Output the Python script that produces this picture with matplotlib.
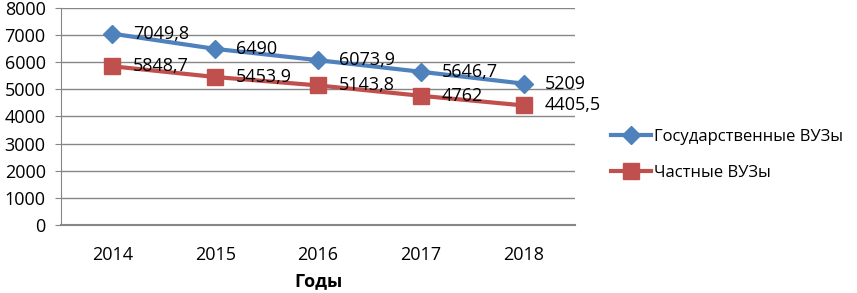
import matplotlib
matplotlib.use("Agg")
import matplotlib.pyplot as plt

years = ["2014", "2015", "2016", "2017", "2018"]
state = [7049.8, 6490, 6073.9, 5646.7, 5209]
private = [5848.7, 5453.9, 5143.8, 4762, 4405.5]
state_labels = ["7049,8", "6490", "6073,9", "5646,7", "5209"]
private_labels = ["5848,7", "5453,9", "5143,8", "4762", "4405,5"]

plt.rcParams['font.family'] = ['Open Sans', 'DejaVu Sans']

fig = plt.figure(figsize=(8.57, 2.93), dpi=100)
ax = fig.add_axes([0.0712, 0.232, 0.6, 0.741])

x = range(len(years))
l1, = ax.plot(x, state, color="#4F81BD", lw=3, marker="D", ms=9,
              label="Государственные ВУЗы")
l2, = ax.plot(x, private, color="#C0504D", lw=3, marker="s", ms=11,
              label="Частные ВУЗы")

for i in x:
    ax.annotate(state_labels[i], (i, state[i]), xytext=(15, 0),
                textcoords="offset points", ha="left", va="center", fontsize=13)
    ax.annotate(private_labels[i], (i, private[i]), xytext=(15, 0),
                textcoords="offset points", ha="left", va="center", fontsize=13)

ax.set_xlim(-0.5, 4.5)
ax.set_ylim(0, 8000)
ax.set_yticks(range(0, 8001, 1000))
ax.set_xticks(list(x))
ax.set_xticklabels(years)
ax.tick_params(axis="y", length=4, color="#868686", labelsize=13, pad=7)
ax.tick_params(axis="x", length=0, labelsize=13, pad=15)
ax.grid(axis="y", color="#868686", lw=1)
ax.set_axisbelow(True)
for s in ["top", "right"]:
    ax.spines[s].set_visible(False)
ax.spines["left"].set_color("#868686")
ax.spines["bottom"].set_color("#868686")
ax.spines["bottom"].set_linewidth(1.5)
ax.set_xlabel("Годы", fontsize=13, fontweight="bold", labelpad=6)

fig.legend(handles=[l1, l2], loc="center left", bbox_to_anchor=(0.705, 0.47),
           frameon=False, fontsize=12, handlelength=2.4, handletextpad=0.2,
           labelspacing=1.2, borderaxespad=0)

fig.savefig("out.png", dpi=100)
